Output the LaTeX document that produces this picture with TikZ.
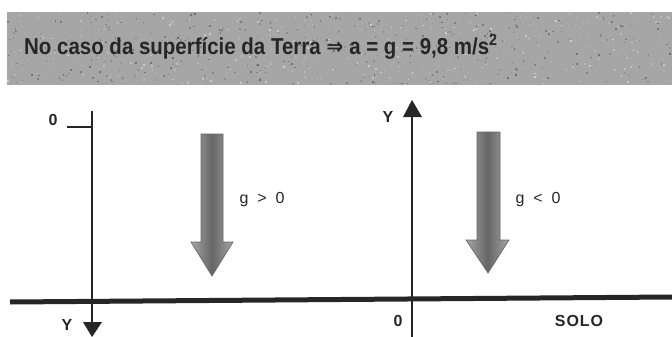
\documentclass[tikz,border=0pt]{standalone}
\usepackage{fontspec}
\setmainfont{Liberation Sans}
\newfontfamily\dejavu{DejaVu Sans}
\begin{document}
\begin{tikzpicture}[x=1pt,y=-1pt,
  lbl/.style={font=\fontsize{16}{18}\selectfont, inner sep=0pt, text=black!85},
  axisline/.style={line width=1.4pt, draw=black!85},
  blockarrow/.style={draw=black!60, line width=0.7pt, left color=black!35, right color=black!35, middle color=black!60}]
\useasboundingbox (0,0) rectangle (672,337);
% title band
\fill[black!35] (7,12) rectangle (672,85);
\pgfmathsetseed{7}
\foreach \i in {1,...,900}{
  \pgfmathsetmacro{\px}{7+663*rnd}
  \pgfmathsetmacro{\py}{12+71*rnd}
  \pgfmathsetmacro{\sh}{18+40*rnd}
  \fill[black!\sh] (\px,\py) rectangle ++(1.6,1.6);
}
\node[font=\bfseries\fontsize{23}{26}\selectfont, anchor=base west, inner sep=0pt, text=black!85] (title) at (24,55) {\scalebox{0.89}[1]{No caso da superfície da Terra {\dejavu\bfseries ⇒} a = g = 9,8 m/s\textsuperscript{2}}};
% ground
\coordinate (gl) at (10,302);
\coordinate (gr) at (672,297);
\draw[line width=5pt, black!85] (gl) -- (gr);
% left axis
\coordinate (lt) at (92,111);
\coordinate (lb) at (92,337);
\coordinate (tick) at (67,127);
\draw[axisline] (lt) -- (92,322);
\fill[black!85] (83,322) -- (102,322) -- (92,337) -- cycle;
\draw[axisline] (tick) -- (92,127);
\node[lbl] (zl) at (53,120) {\bfseries 0};
\node[lbl] (yl) at (67,325) {\bfseries Y};
% right axis
\coordinate (rt) at (412,100);
\coordinate (rb) at (412,337);
\draw[axisline] (rb) -- (412,117);
\fill[black!85] (403,117) -- (422,117) -- (rt) -- cycle;
\node[lbl] (yr) at (388,117) {\bfseries Y};
\node[lbl] (zr) at (398,321) {\bfseries 0};
\node[lbl] (solo) at (579,321) {\bfseries S\kern1pt O\kern1pt L\kern1pt O};
% block arrows
\shade[blockarrow] (201,134) -- (223,134) -- (223,242) -- (233,242) -- (212,276) -- (191,242) -- (201,242) -- cycle;
\node[lbl] (gpos) at (262,200) {g\ \ >\ \ 0};
\shade[blockarrow] (477,132) -- (500,132) -- (500,240) -- (509,240) -- (488,273) -- (466,240) -- (477,240) -- cycle;
\node[lbl] (gneg) at (538,200) {g\ \ <\ \ 0};
\end{tikzpicture}
\end{document}
